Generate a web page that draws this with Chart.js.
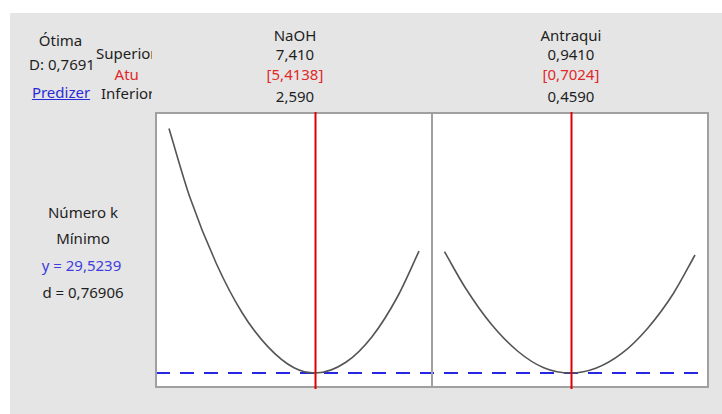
<!DOCTYPE html>
<html>
<head>
<meta charset="utf-8">
<script src="https://cdn.jsdelivr.net/npm/chart.js@4.4.1/dist/chart.umd.min.js"></script>
<style>
  html, body { margin:0; padding:0; background:#ffffff; width:722px; height:414px; overflow:hidden; }
  body { position:relative; font-family:"Noto Sans", "Open Sans", sans-serif; font-size:15px; color:#1e1e1e; }
  #bg { position:absolute; left:10px; top:13px; width:712px; height:401px; background:#e5e5e5; }
  .t { position:absolute; line-height:20px; white-space:nowrap; }
  .c { text-align:center; }
  .red { color:#e02828; }
  .blue { color:#3c3ce0; }
  canvas { position:absolute; }
</style>
</head>
<body>
<div id="bg"></div>
<div id="labels"></div>
<canvas id="c1" width="288" height="284" style="left:150px;top:108px;"></canvas>
<canvas id="c2" width="288" height="284" style="left:426px;top:108px;"></canvas>
<script>
// ---- data ----
const factorNames = ["NaOH", "Antraqui"];
const highLabels = ["7,410", "0,9410"];
const currentLabels = ["[5,4138]", "[0,7024]"];
const lowLabels = ["2,590", "0,4590"];
const currentValues = [5.4138, 0.7024];
const factorLow = [2.59, 0.459];
const factorHigh = [7.41, 0.941];

const naohX = [2.59, 3.0, 3.5, 4.0, 4.5, 5.0, 5.4138, 6.0, 6.5, 7.0, 7.41];
const naohY = [51.75, 45.4, 39.5, 35.0, 31.9, 30.0, 29.52, 30.5, 32.8, 36.5, 40.6];
const antraX = [0.459, 0.5, 0.55, 0.6, 0.65, 0.7024, 0.75, 0.8, 0.85, 0.9, 0.941];
const antraY = [40.55, 37.2, 33.9, 31.5, 30.0, 29.52, 29.95, 31.3, 33.6, 36.8, 40.25];

const responseName = "Número k";
const goal = "Mínimo";
const yOptimum = 29.5239;
const yLabel = "y = 29,5239";
const dLabel = "d = 0,76906";
const compositeD = "D: 0,7691";

// ---- text ----
const L = document.getElementById('labels');
function txt(s, x, yc, cls, extra) {
  const d = document.createElement('div');
  d.className = 't ' + (cls || '');
  d.textContent = s;
  d.style.top = (yc - 10) + 'px';
  if (extra) Object.assign(d.style, extra);
  if (x !== null) { d.style.left = (x - 100) + 'px'; d.style.width = '200px'; d.classList.add('c'); }
  L.appendChild(d);
  return d;
}
txt("Ótima", 60.5, 40);
txt(compositeD, 62, 64);
txt("Predizer", 61, 92, 'blue', {textDecoration:'underline', color:'#2a2ad8'});
// clipped column of row labels
const clip = document.createElement('div');
Object.assign(clip.style, {position:'absolute', left:'95px', top:'40px', width:'57px', height:'70px', overflow:'hidden'});
L.appendChild(clip);
function ctxt(s, x, yc, cls, center) {
  const d = document.createElement('div');
  d.className = 't ' + (cls || '');
  d.textContent = s;
  d.style.top = (yc - 10 - 40) + 'px';
  if (center) { d.style.left = (x - 95 - 50) + 'px'; d.style.width = '100px'; d.style.textAlign = 'center'; }
  else d.style.left = (x - 95) + 'px';
  clip.appendChild(d);
}
ctxt("Superior", 96, 53);
ctxt("Atu", 126.7, 74, 'red', true);
ctxt("Inferior", 101, 93);

const centers = [295, 571];
for (let i = 0; i < 2; i++) {
  txt(factorNames[i], centers[i], 35);
  txt(highLabels[i], centers[i], 54);
  txt(currentLabels[i], centers[i], 73.5, 'red');
  txt(lowLabels[i], centers[i], 96);
}
txt(responseName, 83, 212);
txt(goal, 83, 238);
txt(yLabel, 81.5, 265, 'blue');
txt(dLabel, 83, 292);

// ---- charts ----
const panelPlugin = {
  id: 'panel',
  beforeDraw(chart) {
    const {ctx, chartArea: a} = chart;
    ctx.save();
    ctx.fillStyle = '#ffffff';
    ctx.fillRect(a.left, a.top, a.right - a.left, a.bottom - a.top);
    ctx.restore();
  },
  beforeDatasetsDraw(chart, args, opts) {
    const {ctx, chartArea: a, scales} = chart;
    const y = scales.y.getPixelForValue(yOptimum);
    ctx.save();
    ctx.strokeStyle = '#2626e6';
    ctx.lineWidth = 2;
    ctx.setLineDash([14, 10]);
    ctx.lineDashOffset = opts.dashOffset || 0;
    ctx.beginPath();
    ctx.moveTo(a.left, y);
    ctx.lineTo(a.right, y);
    ctx.stroke();
    ctx.restore();
  },
  afterDatasetsDraw(chart, args, opts) {
    const {ctx, chartArea: a, scales} = chart;
    ctx.save();
    ctx.strokeStyle = '#a0a0a0';
    ctx.lineWidth = 2;
    ctx.strokeRect(a.left, a.top, a.right - a.left, a.bottom - a.top);
    const x = Math.round(scales.x.getPixelForValue(opts.current)) + 0.5;
    ctx.strokeStyle = '#e00000';
    ctx.lineWidth = 2;
    ctx.beginPath();
    ctx.moveTo(x, a.top - 1);
    ctx.lineTo(x, a.bottom + 2);
    ctx.stroke();
    ctx.restore();
  }
};

function makeChart(id, xs, ys, idx, xmin, xmax, dashOffset) {
  new Chart(document.getElementById(id), {
    type: 'line',
    data: {
      datasets: [{
        data: xs.map((x, k) => ({x: x, y: ys[k]})),
        borderColor: '#555555',
        borderWidth: 1.6,
        pointRadius: 0,
        fill: false,
        cubicInterpolationMode: 'monotone'
      }]
    },
    options: {
      responsive: false,
      animation: false,
      layout: { padding: { left: 6, right: 6, top: 5, bottom: 5 } },
      plugins: {
        legend: { display: false },
        tooltip: { enabled: false },
        panel: { current: currentValues[idx], dashOffset: dashOffset }
      },
      scales: {
        x: { type: 'linear', display: false, min: xmin, max: xmax },
        y: { type: 'linear', display: false, min: 28.25, max: 53.16 }
      }
    },
    plugins: [panelPlugin]
  });
}
makeChart('c1', naohX, naohY, 0, 2.34, 7.66, 0);
makeChart('c2', antraX, antraY, 1, 0.435, 0.966, 12);
</script>
</body>
</html>
